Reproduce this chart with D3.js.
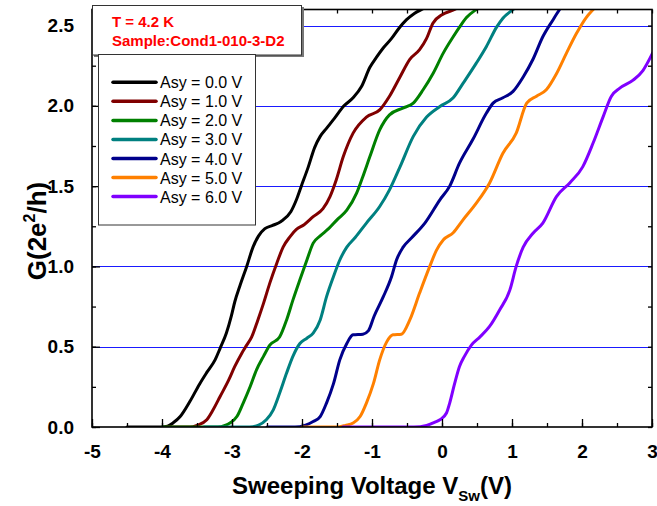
<!DOCTYPE html>
<html>
<head>
<meta charset="utf-8">
<script src="https://cdn.jsdelivr.net/npm/d3@7"></script>
<style>
  html, body { margin: 0; padding: 0; background: #fff; }
  svg { display: block; font-family: Arial, "Liberation Sans", Helvetica, sans-serif; }
</style>
</head>
<body>
<svg id="chart" width="657" height="506"></svg>
<script>
// Conductance G (2e^2/h) versus sweeping voltage, one trace per Asy bias.
const asyLabels = ["Asy = 0.0 V", "Asy = 1.0 V", "Asy = 2.0 V", "Asy = 3.0 V", "Asy = 4.0 V", "Asy = 5.0 V", "Asy = 6.0 V"];
const traceColors = ["#000000", "#800000", "#008000", "#008080", "#00008b", "#ff8000", "#8000ff"];

const xTicks = [-5, -4, -3, -2, -1, 0, 1, 2, 3];
const yTicks = [0.0, 0.5, 1.0, 1.5, 2.0, 2.5];
const plateaus = [0.5, 1.0, 1.5, 2.0, 2.5];

// [V_sw, G] pairs
const asy0 = [[-4.5,0],[-4.0,0],[-3.92,0.005],[-3.84,0.026],[-3.74,0.065],[-3.60,0.16],[-3.46,0.27],[-3.36,0.34],[-3.24,0.42],[-3.17,0.49],[-3.08,0.585],[-3.01,0.69],[-2.96,0.78],[-2.89,0.875],[-2.79,1.0],[-2.70,1.12],[-2.62,1.19],[-2.53,1.235],[-2.42,1.255],[-2.30,1.28],[-2.16,1.34],[-2.08,1.415],[-2.01,1.50],[-1.91,1.62],[-1.82,1.74],[-1.74,1.81],[-1.65,1.86],[-1.54,1.92],[-1.40,2.0],[-1.27,2.05],[-1.15,2.12],[-1.03,2.24],[-0.94,2.30],[-0.84,2.36],[-0.72,2.42],[-0.62,2.48],[-0.51,2.535],[-0.39,2.577],[-0.25,2.61],[-0.15,2.64]];
const asy1 = [[-3.95,0],[-3.6,0],[-3.5,0.01],[-3.36,0.045],[-3.27,0.107],[-3.17,0.19],[-3.05,0.29],[-2.96,0.377],[-2.86,0.46],[-2.79,0.51],[-2.72,0.56],[-2.63,0.667],[-2.55,0.77],[-2.46,0.896],[-2.36,1.02],[-2.27,1.12],[-2.17,1.186],[-2.08,1.23],[-1.97,1.26],[-1.84,1.31],[-1.70,1.36],[-1.60,1.435],[-1.51,1.54],[-1.41,1.684],[-1.27,1.83],[-1.08,1.93],[-0.89,1.975],[-0.75,2.06],[-0.60,2.18],[-0.46,2.29],[-0.32,2.35],[-0.22,2.42],[-0.13,2.515],[0.0,2.567],[0.18,2.60],[0.3,2.63]];
const asy2 = [[-4.0,0],[-3.2,0],[-3.1,0.01],[-3.03,0.025],[-2.93,0.065],[-2.84,0.149],[-2.74,0.252],[-2.65,0.356],[-2.55,0.44],[-2.46,0.51],[-2.32,0.56],[-2.22,0.667],[-2.13,0.79],[-2.03,0.917],[-1.93,1.04],[-1.84,1.145],[-1.74,1.19],[-1.62,1.235],[-1.50,1.29],[-1.36,1.35],[-1.22,1.456],[-1.13,1.56],[-1.03,1.684],[-0.89,1.85],[-0.75,1.944],[-0.56,1.986],[-0.41,2.017],[-0.27,2.10],[-0.13,2.20],[0.02,2.33],[0.16,2.43],[0.25,2.49],[0.35,2.55],[0.49,2.60],[0.6,2.63]];
const asy3 = [[-3.4,0],[-2.75,0],[-2.62,0.012],[-2.51,0.045],[-2.41,0.107],[-2.32,0.21],[-2.22,0.336],[-2.13,0.44],[-2.03,0.52],[-1.93,0.553],[-1.84,0.585],[-1.74,0.667],[-1.65,0.81],[-1.55,0.937],[-1.46,1.04],[-1.36,1.12],[-1.24,1.18],[-1.08,1.27],[-0.89,1.373],[-0.75,1.477],[-0.60,1.62],[-0.41,1.81],[-0.22,1.93],[-0.03,1.996],[0.16,2.05],[0.30,2.14],[0.49,2.266],[0.635,2.37],[0.78,2.49],[0.87,2.546],[1.015,2.60],[1.1,2.63]];
const asy4 = [[-2.5,0],[-2.1,0],[-1.95,0.012],[-1.84,0.034],[-1.74,0.065],[-1.65,0.149],[-1.55,0.27],[-1.46,0.418],[-1.36,0.52],[-1.27,0.574],[-1.13,0.578],[-1.05,0.6],[-0.97,0.69],[-0.84,0.81],[-0.72,0.937],[-0.65,1.04],[-0.555,1.12],[-0.43,1.18],[-0.245,1.27],[-0.03,1.415],[0.11,1.50],[0.25,1.643],[0.44,1.79],[0.635,1.955],[0.73,2.017],[0.87,2.05],[1.015,2.09],[1.16,2.18],[1.30,2.29],[1.44,2.43],[1.585,2.535],[1.68,2.60],[1.75,2.64]];
const asy5 = [[-2.0,0],[-1.5,0],[-1.38,0.01],[-1.27,0.025],[-1.17,0.065],[-1.08,0.149],[-0.98,0.27],[-0.89,0.418],[-0.79,0.53],[-0.70,0.574],[-0.58,0.578],[-0.46,0.667],[-0.32,0.834],[-0.175,1.0],[-0.08,1.10],[0.02,1.166],[0.16,1.21],[0.30,1.29],[0.49,1.394],[0.68,1.52],[0.87,1.705],[1.06,1.83],[1.21,2.017],[1.35,2.06],[1.49,2.10],[1.635,2.20],[1.78,2.33],[1.92,2.45],[2.06,2.55],[2.16,2.60],[2.25,2.64]];
const asy6 = [[-1.42,0],[-0.4,0],[-0.22,0.01],[-0.10,0.03],[-0.03,0.045],[0.064,0.087],[0.11,0.149],[0.18,0.27],[0.25,0.377],[0.32,0.44],[0.42,0.51],[0.54,0.56],[0.68,0.626],[0.825,0.73],[0.97,0.854],[1.06,1.0],[1.16,1.12],[1.30,1.207],[1.44,1.27],[1.635,1.435],[1.825,1.52],[2.01,1.62],[2.16,1.77],[2.30,1.93],[2.42,2.06],[2.54,2.11],[2.73,2.16],[2.87,2.22],[3.01,2.33]];
const traces = [asy0, asy1, asy2, asy3, asy4, asy5, asy6];

const svg = d3.select("#chart");
const plotLeft = 92, plotRight = 652, plotTop = 9.5, plotBottom = 427;

const x = d3.scaleLinear().domain([-5, 3]).range([plotLeft, plotRight]);
const y = d3.scaleLinear().domain([0, 2.6]).range([plotBottom, plotTop]);

svg.append("rect").attr("width", 657).attr("height", 506).attr("fill", "#fff");

svg.append("defs").append("clipPath").attr("id", "plotClip")
  .append("rect").attr("x", plotLeft).attr("y", plotTop)
  .attr("width", plotRight - plotLeft).attr("height", plotBottom - plotTop);

// plateau reference lines
svg.append("g").selectAll("line").data(plateaus).join("line")
  .attr("x1", plotLeft).attr("x2", plotRight)
  .attr("y1", d => Math.round(y(d)) + 0.5).attr("y2", d => Math.round(y(d)) + 0.5)
  .attr("stroke", "#1a1aff").attr("stroke-width", 1.2);

// traces
const line = d3.line().x(d => x(d[0])).y(d => y(d[1])).curve(d3.curveMonotoneX);
svg.append("g").attr("clip-path", "url(#plotClip)")
  .selectAll("path").data(traces).join("path")
  .attr("d", line)
  .attr("fill", "none")
  .attr("stroke", (d, i) => traceColors[i])
  .attr("stroke-width", 3)
  .attr("stroke-linejoin", "round")
  .attr("stroke-linecap", "round");

// axes: inward ticks on all four sides
const xMinor = d3.range(-5, 3.01, 0.5);
const yMinor = d3.range(0, 2.61, 0.25);
const axisStyle = g => {
  g.select(".domain").remove();
  g.selectAll(".tick line").attr("stroke", "#000").attr("stroke-width", 1.3);
};
svg.append("g").attr("transform", `translate(0,${plotBottom})`)
  .call(d3.axisBottom(x).tickValues(xMinor).tickSize(-4).tickFormat(""))
  .call(axisStyle);
svg.append("g").attr("transform", `translate(0,${plotBottom})`)
  .call(d3.axisBottom(x).tickValues(xTicks).tickSize(-8).tickPadding(18).tickFormat(d3.format("d")))
  .call(axisStyle)
  .call(g => g.selectAll("text").attr("font-size", 19).attr("font-weight", "bold").attr("fill", "#000")
    .text(d => d < 0 ? "-" + Math.abs(d) : d));
svg.append("g").attr("transform", `translate(0,${plotTop})`)
  .call(d3.axisTop(x).tickValues(xMinor).tickSize(-4).tickFormat(""))
  .call(axisStyle);
svg.append("g").attr("transform", `translate(${plotLeft},0)`)
  .call(d3.axisLeft(y).tickValues(yMinor).tickSize(-4).tickFormat(""))
  .call(axisStyle);
svg.append("g").attr("transform", `translate(${plotLeft},0)`)
  .call(d3.axisLeft(y).tickValues(yTicks).tickSize(-8).tickPadding(18).tickFormat(d3.format(".1f")))
  .call(axisStyle)
  .call(g => g.selectAll("text").attr("font-size", 19).attr("font-weight", "bold").attr("fill", "#000"));
svg.append("g").attr("transform", `translate(${plotRight},0)`)
  .call(d3.axisRight(y).tickValues(yMinor).tickSize(-4).tickFormat(""))
  .call(axisStyle);

// frame
svg.append("rect").attr("x", plotLeft).attr("y", plotTop)
  .attr("width", plotRight - plotLeft).attr("height", plotBottom - plotTop)
  .attr("fill", "none").attr("stroke", "#000").attr("stroke-width", 1.6);

// axis titles
const xt = svg.append("text").attr("x", 372).attr("y", 494).attr("text-anchor", "middle")
  .attr("font-size", 24).attr("font-weight", "bold").attr("fill", "#000");
xt.append("tspan").text("Sweeping Voltage V");
xt.append("tspan").attr("font-size", 15).attr("dy", 7).text("Sw");
xt.append("tspan").attr("dy", -7).text("(V)");

const yt = svg.append("text").attr("transform", "translate(46,231) rotate(-90)").attr("text-anchor", "middle")
  .attr("font-size", 26).attr("font-weight", "bold").attr("fill", "#000");
yt.append("tspan").text("G(2e");
yt.append("tspan").attr("font-size", 16).attr("dy", -11).text("2");
yt.append("tspan").attr("dy", 11).text("/h)");

// temperature / sample box
svg.append("rect").attr("x", 94).attr("y", 7).attr("width", 210).attr("height", 50).attr("fill", "#777");
svg.append("rect").attr("x", 92.5).attr("y", 5.5).attr("width", 209).attr("height", 49.5)
  .attr("fill", "#fff").attr("stroke", "#333").attr("stroke-width", 1);
svg.append("text").attr("x", 112).attr("y", 26.5).attr("font-size", 15).attr("font-weight", "bold")
  .attr("fill", "#ff0000").text("T = 4.2 K");
svg.append("text").attr("x", 112).attr("y", 45.5).attr("font-size", 15).attr("font-weight", "bold")
  .attr("fill", "#ff0000").text("Sample:Cond1-010-3-D2");

// legend
const lg = svg.append("g");
lg.append("rect").attr("x", 98.5).attr("y", 54.5).attr("width", 157).attr("height", 170.5)
  .attr("fill", "#fff").attr("stroke", "#333").attr("stroke-width", 1);
const rows = lg.selectAll("g.row").data(asyLabels).join("g").attr("class", "row")
  .attr("transform", (d, i) => `translate(0,${82.3 + i * 19.05})`);
rows.append("line").attr("x1", 113).attr("x2", 156).attr("y1", 0).attr("y2", 0)
  .attr("stroke", (d, i) => traceColors[i]).attr("stroke-width", 3.5).attr("stroke-linecap", "round");
rows.append("text").attr("x", 160).attr("y", 6).attr("font-size", 16).attr("fill", "#000").text(d => d);
</script>
</body>
</html>
